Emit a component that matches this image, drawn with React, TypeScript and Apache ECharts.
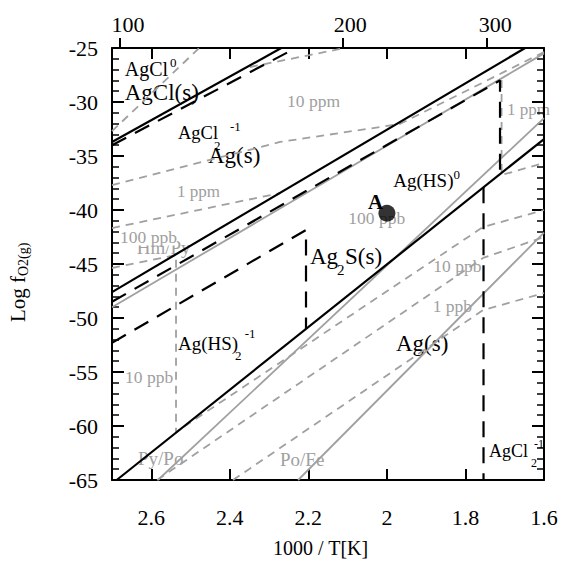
import React, { useEffect, useRef } from "react";
import * as echarts from "echarts";

const SERIF = "Liberation Serif, serif";
const BLACK = "#000000";
const GRAY = "#a0a0a0";

// axis ranges (1000/T, log fO2)
const X_MIN = 1.6;
const X_MAX = 2.7;
const Y_MIN = -65;
const Y_MAX = -25;
const celsiusTicks = [100, 200, 300];

// black solid phase boundaries [1000/T, log fO2]
const agclAgBoundary = [[2.7, -33.7], [2.269, -25]];
const agAg2sUpper = [[2.7, -47.6], [1.648, -25]];
const ag2sAgLower = [[2.688, -65], [1.6, -33.43]];

// black dashed aqueous-species boundaries
const agcl0Agcl2 = [[2.7, -34.0], [2.232, -25]];
const agcl2AgHS0 = [[2.7, -48.5], [1.712, -28.0], [1.712, -36.68]];
const agcl2AgHS2 = [[2.7, -52.3], [2.206, -41.85], [2.206, -51.0]];
const agHS2Agcl2 = [[1.754, -37.9], [1.754, -65]];

// gray solid mineral buffers
const hmPy = [[2.7, -49.0], [1.6, -25.5]];
const pyPo = [[2.583, -65], [1.6, -31.5]];
const poFe = [[2.226, -65], [1.6, -42.1]];

// gray dashed solubility contours
const contourSteep = [[2.7, -32.7], [2.478, -25]];
const contour10ppm = [[2.349, -26.76], [2.107, -25]];
const contour1ppm = [[2.7, -37.69], [2.272, -33.7], [1.967, -32.04], [1.6, -25.37]];
const contour1ppmRight = [[1.708, -27.96], [1.708, -36.76], [1.6, -35.65]];
const contour100ppb = [[2.7, -41.67], [2.272, -38.43]];
const contour10ppb = [[2.7, -45.37], [2.537, -44.17], [2.537, -60.56], [1.755, -41.57], [1.6, -40.0]];
const contour1ppb = [[2.585, -65], [1.755, -44.44], [1.6, -42.5]];
const contour100ppt = [[2.392, -65], [1.755, -49.26], [1.6, -47.69]];

// sample point A
const pointA = [[2.0, -40.3]];

function lineSeries(data: number[][], color: string, width: number, type: any) {
  return {
    type: "line",
    data,
    symbol: "none",
    showSymbol: false,
    silent: true,
    xAxisIndex: 0,
    yAxisIndex: 0,
    lineStyle: { color, width, type },
  };
}

function label(text: string, x: number, y: number, size: number, fill: string, extra: any = {}) {
  return {
    type: "text",
    x,
    y,
    silent: true,
    style: {
      text,
      fontSize: size,
      fontFamily: SERIF,
      fill,
      align: "left",
      verticalAlign: "middle",
      ...extra,
    },
  };
}
const blk = (t: string, x: number, y: number, s: number, e: any = {}) => label(t, x, y, s, BLACK, e);
const gry = (t: string, x: number, y: number, s: number, e: any = {}) => label(t, x, y, s, GRAY, e);

export default function App() {
  const ref = useRef<HTMLDivElement>(null);
  useEffect(() => {
    const chart = echarts.init(ref.current!, null, { renderer: "svg" });
    const celsiusPos = celsiusTicks.map((c) => 1000 / (c + 273.15));
    const baseX = {
      type: "value",
      min: X_MIN,
      max: X_MAX,
      inverse: true,
      splitLine: { show: false },
      gridIndex: 0,
    };
    const baseY = {
      type: "value",
      min: Y_MIN,
      max: Y_MAX,
      interval: 5,
      splitLine: { show: false },
      minorSplitLine: { show: false },
      axisLine: { show: true, lineStyle: { color: BLACK, width: 2 } },
      axisTick: { show: true, inside: true, length: 12, lineStyle: { color: BLACK, width: 2 } },
      minorTick: { show: true, splitNumber: 5, length: 7, lineStyle: { color: BLACK, width: 1.5 } },
    };
    const option: any = {
      animation: false,
      backgroundColor: "#ffffff",
      textStyle: { fontFamily: SERIF },
      grid: { left: 112, top: 48, width: 432, height: 432, containLabel: false },
      xAxis: [
        {
          ...baseX,
          position: "bottom",
          interval: 0.2,
          axisLine: { show: true, onZero: false, lineStyle: { color: BLACK, width: 2 } },
          axisTick: { show: true, inside: true, length: 11, lineStyle: { color: BLACK, width: 2 } },
          axisLabel: { fontSize: 22, fontFamily: SERIF, color: BLACK, margin: 26, showMaxLabel: false },
        },
        {
          ...baseX,
          position: "top",
          interval: 0.2,
          axisLine: { show: true, onZero: false, lineStyle: { color: BLACK, width: 2 } },
          axisTick: { show: true, inside: true, length: 11, lineStyle: { color: BLACK, width: 2 } },
          axisLabel: { show: false },
        },
        {
          ...baseX,
          position: "top",
          axisLine: { show: false, onZero: false },
          axisTick: {
            show: true,
            inside: false,
            length: 10,
            customValues: celsiusPos,
            lineStyle: { color: BLACK, width: 2 },
          },
          axisLabel: {
            show: true,
            customValues: celsiusPos,
            formatter: (v: number) => String(Math.round(1000 / v - 273.15)),
            fontSize: 22,
            fontFamily: SERIF,
            color: BLACK,
            margin: 13,
            padding: [0, 0, 0, 16],
          },
        },
      ],
      yAxis: [
        {
          ...baseY,
          position: "left",
          axisLabel: { fontSize: 22, fontFamily: SERIF, color: BLACK, margin: 14 },
        },
        {
          ...baseY,
          position: "right",
          axisLabel: { show: false },
        },
      ],
      series: [
        lineSeries(hmPy, GRAY, 1.8, "solid"),
        lineSeries(pyPo, GRAY, 1.8, "solid"),
        lineSeries(poFe, GRAY, 1.8, "solid"),
        lineSeries(contourSteep, GRAY, 1.8, [8, 6]),
        lineSeries(contour10ppm, GRAY, 1.8, [8, 6]),
        lineSeries(contour1ppm, GRAY, 1.8, [8, 6]),
        lineSeries(contour1ppmRight, GRAY, 1.8, [8, 6]),
        lineSeries(contour100ppb, GRAY, 1.8, [8, 6]),
        lineSeries(contour10ppb, GRAY, 1.8, [8, 6]),
        lineSeries(contour1ppb, GRAY, 1.8, [8, 6]),
        lineSeries(contour100ppt, GRAY, 1.8, [8, 6]),
        lineSeries(agcl0Agcl2, BLACK, 2.2, [16, 10]),
        lineSeries(agcl2AgHS0, BLACK, 2.2, [16, 10]),
        lineSeries(agcl2AgHS2, BLACK, 2.2, [16, 10]),
        lineSeries(agHS2Agcl2, BLACK, 2.2, [16, 10]),
        lineSeries(agclAgBoundary, BLACK, 2.2, "solid"),
        lineSeries(agAg2sUpper, BLACK, 2.2, "solid"),
        lineSeries(ag2sAgLower, BLACK, 2.2, "solid"),
        {
          type: "scatter",
          data: pointA,
          symbol: "circle",
          symbolSize: 17,
          itemStyle: { color: BLACK },
          silent: true,
          z: 5,
        },
      ],
      graphic: [
        blk("AgCl", 124.7, 69, 20),
        blk("0", 170, 62, 13),
        blk("AgCl(s)", 124.7, 92.3, 23),
        blk("AgCl", 178, 133, 18.5),
        blk("2", 214, 145, 13),
        blk("-1", 230, 126, 13),
        blk("Ag(s)", 208, 155.7, 23),
        gry("10 ppm", 287, 101, 17.5),
        gry("1 ppm", 177, 191.5, 17),
        gry("Hm/Py", 136.7, 247.5, 19),
        gry("100 ppb", 120, 236.5, 17.5, { backgroundColor: "#ffffff" }),
        gry("1 ppm", 507, 109, 17),
        blk("Ag(HS)", 393.3, 180, 19),
        blk("0", 453.5, 174, 13),
        gry("100 ppb", 348.3, 217.5, 17.5),
        blk("A", 368, 202, 21, { fontWeight: "bold" }),
        blk("Ag", 310, 256.7, 23),
        blk("2", 337, 269.5, 15),
        blk("S(s)", 345, 256.7, 23),
        gry("10 ppb", 433.3, 266, 17.5),
        gry("1 ppb", 432.7, 306, 17.5),
        blk("Ag(s)", 396, 343, 23),
        blk("Ag(HS)", 178, 343, 19),
        blk("2", 235, 355, 13),
        blk("-1", 244.7, 333, 13),
        gry("10 ppb", 125, 377, 17.5),
        gry("Py/Po", 138, 458.7, 19),
        gry("Po/Fe", 280, 459, 19),
        blk("AgCl", 489, 451, 18),
        blk("2", 531, 463, 12),
        blk("-1", 534, 444, 12),
        blk("1000 / T[K]", 273, 548, 20),
        {
          type: "group",
          x: 18,
          y: 322,
          rotation: Math.PI / 2,
          children: [
            {
              type: "text",
              x: 0,
              y: 0,
              style: { text: "Log f", fontSize: 21, fontFamily: SERIF, fill: BLACK, align: "left", verticalAlign: "middle" },
            },
            {
              type: "text",
              x: 46,
              y: 5,
              style: { text: "O2(g)", fontSize: 14, fontFamily: SERIF, fill: BLACK, align: "left", verticalAlign: "middle" },
            },
          ],
        },
      ],
    };
    chart.setOption(option);
    return () => chart.dispose();
  }, []);
  return (
    <div
      ref={ref}
      style={{ position: "fixed", left: 0, top: 0, width: 563, height: 562, background: "#ffffff" }}
    />
  );
}
